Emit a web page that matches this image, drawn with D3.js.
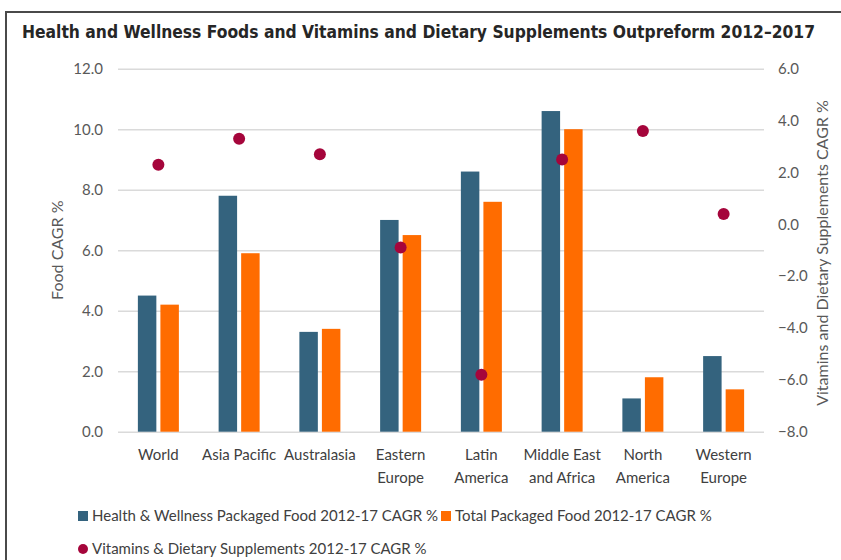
<!DOCTYPE html>
<html>
<head>
    <meta charset="utf-8">
    <title>Health and Wellness CAGR</title>
    <style>
        body { margin: 0; background: #fff; }
        text { font-family: Lato, "Open Sans", sans-serif; }
    </style>
</head>
<body>
<div id="chart"></div>
<script src="https://cdn.jsdelivr.net/npm/d3@7"></script>
<script>

    let categories = [['World'], ['Asia Pacific'], ['Australasia'], ['Eastern', 'Europe'],
        ['Latin', 'America'], ['Middle East', 'and Africa'], ['North', 'America'], ['Western', 'Europe']];
    let seriesNames = ['Health & Wellness Packaged Food 2012-17 CAGR %', 'Total Packaged Food 2012-17 CAGR %'];
    let dotName = 'Vitamins & Dietary Supplements 2012-17 CAGR %';
    let healthWellness = [4.5, 7.8, 3.3, 7.0, 8.6, 10.6, 1.1, 2.5];
    let totalPackaged = [4.2, 5.9, 3.4, 6.5, 7.6, 10.0, 1.8, 1.4];
    let vitamins = [2.3, 3.3, 2.7, -0.9, -5.8, 2.5, 3.6, 0.4];
    let leftTicks = [0, 2, 4, 6, 8, 10, 12];
    let rightTicks = [-8, -6, -4, -2, 0, 2, 4, 6];

    let colors = ['#34637e', '#ff6c00'];
    let dotColor = '#a5053b';

    function translate(x, y) {
        return 'translate(' + x + ', ' + y + ')';
    }

    let svgWidth = 841;
    let svgHeight = 560;
    let plot = {left: 118, right: 764, top: 68.7, bottom: 431.7};

    let svg = d3.select('#chart')
        .append('svg')
        .attr('width', svgWidth)
        .attr('height', svgHeight);

    // frame
    svg.append('path')
        .attr('d', 'M6,' + svgHeight + ' V12 H' + svgWidth)
        .attr('fill', 'none')
        .attr('stroke', '#4a4a4a')
        .attr('stroke-width', 2);

    svg.append('text')
        .attr('x', 22)
        .attr('y', 38)
        .attr('textLength', 793)
        .attr('lengthAdjust', 'spacingAndGlyphs')
        .style('font-family', '"DejaVu Sans Condensed", sans-serif')
        .style('font-weight', 'bold')
        .style('font-size', '17px')
        .style('fill', '#262626')
        .text('Health and Wellness Foods and Vitamins and Dietary Supplements Outpreform 2012\u20132017');

    let keys = categories.map(d => d.join(' '));

    let x0 = d3.scaleBand()
        .domain(keys)
        .range([plot.left, plot.right]);

    let x1 = d3.scaleBand()
        .domain(seriesNames)
        .range([x0.bandwidth() / 2 - 20.5, x0.bandwidth() / 2 + 20.5])
        .paddingInner(0.18);

    let yLeft = d3.scaleLinear().domain([0, 12]).range([plot.bottom, plot.top]);
    let yRight = d3.scaleLinear().domain([-8, 6]).range([plot.bottom, plot.top]);

    // gridlines + left axis
    let leftAxis = svg.append('g')
        .attr('transform', translate(plot.left, 0))
        .call(d3.axisRight(yLeft)
            .tickValues(leftTicks)
            .tickSize(plot.right - plot.left)
            .tickFormat(d3.format('.1f')));
    leftAxis.select('.domain').remove();
    leftAxis.selectAll('.tick line')
        .attr('stroke', '#dadada')
        .attr('stroke-width', 1.5);
    leftAxis.selectAll('.tick text')
        .attr('x', -15)
        .attr('text-anchor', 'end')
        .style('font-size', '15px')
        .style('fill', '#595959');

    let rightAxis = svg.append('g')
        .attr('transform', translate(plot.right, 0))
        .call(d3.axisRight(yRight)
            .tickValues(rightTicks)
            .tickSize(0)
            .tickPadding(14)
            .tickFormat(d3.format('.1f')));
    rightAxis.select('.domain').remove();
    rightAxis.selectAll('.tick text')
        .style('font-size', '15px')
        .style('fill', '#595959');

    // axis titles
    svg.append('text')
        .attr('transform', translate(63, (plot.top + plot.bottom) / 2) + ' rotate(-90)')
        .attr('text-anchor', 'middle')
        .style('font-size', '16px')
        .style('fill', '#595959')
        .text('Food CAGR %');

    svg.append('text')
        .attr('transform', translate(828, 253) + ' rotate(-90)')
        .attr('text-anchor', 'middle')
        .style('font-size', '16px')
        .style('fill', '#595959')
        .text('Vitamins and Dietary Supplements CAGR %');

    // bars
    let groups = svg.selectAll('.group')
        .data(keys)
        .enter()
        .append('g')
        .attr('class', 'group')
        .attr('transform', d => translate(x0(d), 0));

    groups.selectAll('rect')
        .data((d, i) => [
            {s: seriesNames[0], v: healthWellness[i], c: colors[0]},
            {s: seriesNames[1], v: totalPackaged[i], c: colors[1]}
        ])
        .enter()
        .append('rect')
        .attr('x', d => x1(d.s))
        .attr('width', x1.bandwidth())
        .attr('y', d => yLeft(d.v))
        .attr('height', d => yLeft(0) - yLeft(d.v))
        .style('fill', d => d.c);

    // dots
    svg.selectAll('.dot')
        .data(vitamins)
        .enter()
        .append('circle')
        .attr('class', 'dot')
        .attr('cx', (d, i) => x0(keys[i]) + x0.bandwidth() / 2)
        .attr('cy', d => yRight(d))
        .attr('r', 6)
        .style('fill', dotColor);

    // category labels
    let labels = svg.selectAll('.cat')
        .data(categories)
        .enter()
        .append('text')
        .attr('class', 'cat')
        .attr('text-anchor', 'middle')
        .attr('y', 460)
        .style('font-size', '15px')
        .style('fill', '#404040');
    labels.selectAll('tspan')
        .data(d => d)
        .enter()
        .append('tspan')
        .attr('x', function() {
            let key = d3.select(this.parentNode).datum().join(' ');
            return x0(key) + x0.bandwidth() / 2;
        })
        .attr('dy', (d, i) => i === 0 ? 0 : 22.5)
        .text(d => d);

    // legend
    let legend = svg.append('g');
    let legendItems = [
        {name: seriesNames[0], color: colors[0], x: 78, y: 516, shape: 'rect'},
        {name: seriesNames[1], color: colors[1], x: 441, y: 516, shape: 'rect'},
        {name: dotName, color: dotColor, x: 78, y: 549, shape: 'circle'}
    ];
    legendItems.forEach(function(d) {
        if (d.shape === 'rect') {
            legend.append('rect')
                .attr('x', d.x)
                .attr('y', d.y - 5)
                .attr('width', 10)
                .attr('height', 10)
                .style('fill', d.color);
        } else {
            legend.append('circle')
                .attr('cx', d.x + 5)
                .attr('cy', d.y)
                .attr('r', 5)
                .style('fill', d.color);
        }
        legend.append('text')
            .attr('x', d.x + 14)
            .attr('y', d.y)
            .attr('dy', '0.35em')
            .style('font-size', '15px')
            .style('fill', '#404040')
            .text(d.name);
    });

</script>
</body>
</html>
